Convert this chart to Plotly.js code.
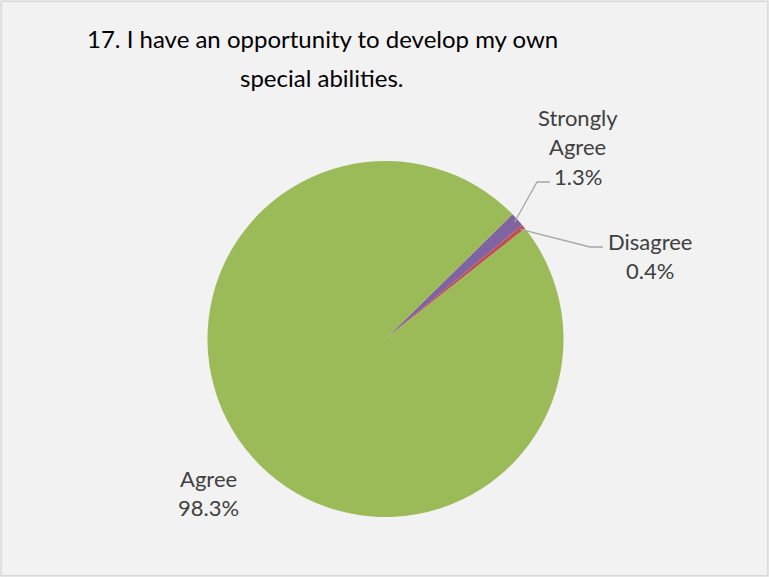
<!DOCTYPE html>
<html>
<head>
<meta charset="utf-8">
<script src="https://cdn.plot.ly/plotly-3.0.1.min.js"></script>
<style>
html,body{margin:0;padding:0;background:#ffffff;}
#chart{width:769px;height:577px;}
</style>
</head>
<body>
<div id="chart"></div>
<script>
// Data
const categories = ["Strongly Agree", "Disagree", "Agree"];
const labelLines = [["Strongly", "Agree", "1.3%"], ["Disagree", "0.4%"], ["Agree", "98.3%"]];
const values = [1.3, 0.4, 98.3];
const colors = ["#8064A2", "#C0504D", "#9BBB59"];
const titleLines = ["17. I have an opportunity to develop my own", "special abilities."];

const W = 769, H = 577;
const cx = 385.5, cy = 339, R = 178;
const rotation = 45.5;

const domX = [(cx - R) / W, (cx + R) / W];
const domY = [(H - cy - R) / H, (H - cy + R) / H];

// slice mid angles (clockwise from top, degrees)
const total = values.reduce((a, b) => a + b, 0);
let acc = rotation;
const mids = values.map(v => { const s = acc; acc += v / total * 360; return (s + acc) / 2; });
function edgePt(angDeg, r) {
  const a = angDeg * Math.PI / 180;
  return [cx + r * Math.sin(a), cy - r * Math.cos(a)];
}
const px = x => x / W;
const py = y => 1 - y / H;

// label layout: center x, first line center y, line spacing
const labelPos = [[577.5, 117], [649.5, 241], [208, 478]];
const lineGap = 29.5;
const elbows = [[[537, 182], [550, 182]], [[590, 247], [603, 247]], null];

const shapes = [];
const annotations = [];
categories.forEach((c, i) => {
  labelLines[i].forEach((t, k) => {
    annotations.push({
      xref: 'paper', yref: 'paper', x: px(labelPos[i][0]), y: py(labelPos[i][1] + k * lineGap),
      xanchor: 'center', yanchor: 'middle', showarrow: false,
      text: t, align: 'center',
      font: {family: 'Lato, sans-serif', size: 22, color: '#404040'}
    });
  });
  if (elbows[i]) {
    const p0 = edgePt(mids[i], R - 4);
    const pts = [p0, elbows[i][0], elbows[i][1]];
    const d = 'M ' + pts.map(p => px(p[0]) + ',' + py(p[1])).join(' L ');
    shapes.push({type: 'path', xref: 'paper', yref: 'paper', path: d,
      line: {color: '#A6A6A6', width: 1.3}});
  }
});
// title lines
const titleY = [39, 78];
titleLines.forEach((t, k) => {
  annotations.push({
    xref: 'paper', yref: 'paper', x: px(322), y: py(titleY[k]),
    xanchor: 'center', yanchor: 'middle', showarrow: false,
    text: t, font: {family: 'Lato, sans-serif', size: 24, color: '#000000'}
  });
});
// chart border
shapes.push({type: 'rect', xref: 'paper', yref: 'paper', x0: 0.0015, x1: 0.9985, y0: 0.002, y1: 0.998,
  line: {color: '#D9D9D9', width: 1.5}, layer: 'below'});

const data = [{
  type: 'pie',
  labels: categories,
  values: values,
  sort: false,
  direction: 'clockwise',
  rotation: rotation,
  marker: {colors: colors, line: {width: 0}},
  textinfo: 'none',
  hoverinfo: 'label+percent',
  domain: {x: domX, y: domY},
  showlegend: false
}];

const layout = {
  width: W, height: H,
  margin: {l: 0, r: 0, t: 0, b: 0},
  paper_bgcolor: '#F2F2F2',
  plot_bgcolor: '#F2F2F2',
  shapes: shapes,
  annotations: annotations
};

Plotly.newPlot('chart', data, layout, {displayModeBar: false, staticPlot: true});
</script>
</body>
</html>
